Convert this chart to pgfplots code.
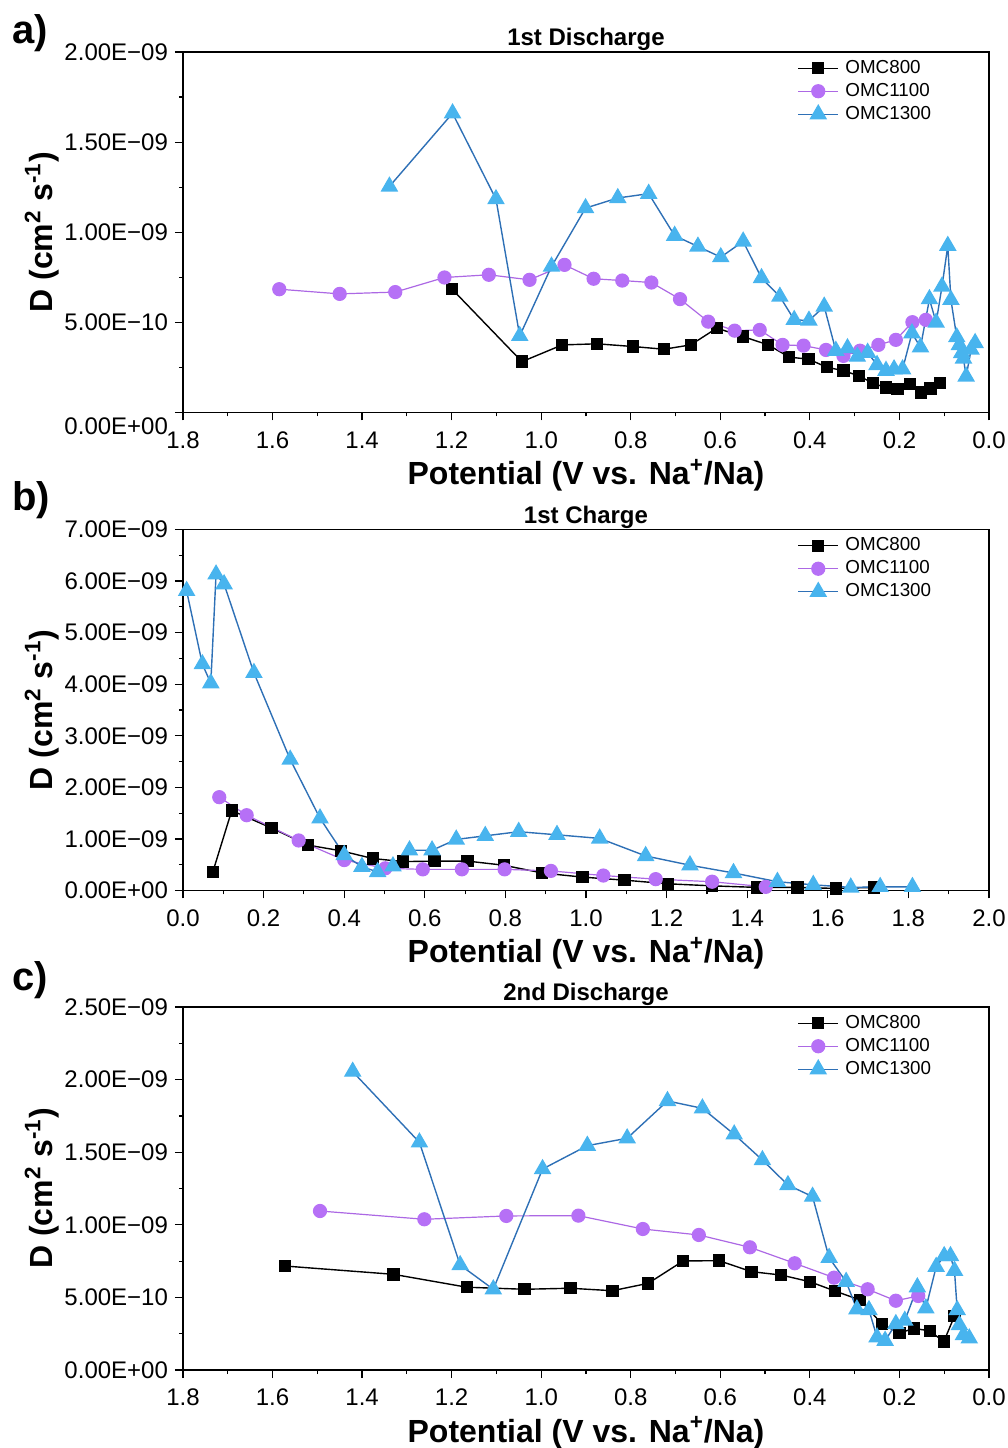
\documentclass[border=0pt]{standalone}
\usepackage{fontspec}
\setmainfont{Liberation Sans}
\usepackage{pgfplots}
\pgfplotsset{compat=1.18}
\definecolor{cA}{RGB}{0,0,0}
\definecolor{cB}{RGB}{182,112,246}
\definecolor{cBline}{RGB}{172,104,228}
\definecolor{cC}{RGB}{72,180,238}
\definecolor{cCline}{RGB}{46,112,182}

\pgfplotsset{
 panel/.style={
  scale only axis, width=403pt,
  anchor=south west, clip=false,
  axis line style={line width=0.7pt},
  tick align=outside, tick pos=left,
  major tick length=4pt, minor tick length=2pt,
  every tick/.style={black, line width=0.6pt},
  minor x tick num=1, minor y tick num=1,
  ticklabel style={font=\fontsize{12}{14}\selectfont},
  /pgf/number format/assume math mode=true,
  xticklabel style={yshift=-2pt, /pgf/number format/.cd, fixed, fixed zerofill, precision=1},
  xlabel={Potential (V vs. Na\textsuperscript{+}/Na)},
  ylabel={D (cm\textsuperscript{2} s\textsuperscript{-1})},
  label style={font=\fontsize{16}{19}\selectfont\bfseries},
  xlabel style={at={(axis description cs:0.5,0)}, anchor=base, yshift=-36.25pt},
  ylabel style={at={(axis description cs:-0.1613,0.5)}, anchor=base},
  title style={font=\fontsize{12}{14}\selectfont\bfseries, at={(axis description cs:0.5,1)}, anchor=base, yshift=-3pt},
  legend style={at={(axis description cs:0.762,0.988)}, anchor=north west, draw=none, fill=none, inner sep=0pt,
    font=\fontsize{9.4}{11}\selectfont, nodes={inner sep=1.25pt, text height=7pt, text depth=2pt}, row sep=0pt,
    /tikz/every odd column/.append style={column sep=2pt}},
  legend cell align=left,
  legend image code/.code={\draw[mark repeat=2,mark phase=2,##1] plot coordinates {(0pt,0pt) (10pt,0pt) (20pt,0pt)};},
 },
 s800/.style={black, line width=0.7pt, mark=square*, mark size=2.75pt, mark options={solid, fill=black, draw=black}},
 s1100/.style={cBline, line width=0.6pt, mark=*, mark size=3.25pt, mark options={solid, fill=cB, draw=cB}},
 s1300/.style={cCline, line width=0.7pt, mark=triangle*, mark size=4.4pt, mark options={solid, fill=cC, draw=cC}},
}

\begin{document}
\begin{tikzpicture}
\useasboundingbox (0,0) rectangle (504pt,724pt);

% ---------------- a) 1st Discharge
\begin{axis}[panel, at={(91.5pt,517.75pt)}, height=180.25pt,
  x dir=reverse, xmin=0, xmax=1.8, ymin=0, ymax=2,
  xtick={0,0.2,...,1.8},
  ytick={0,0.5,1,1.5,2},
  yticklabels={\smash{\raisebox{-11pt}{0.00E+00}},5.00E−10,1.00E−09,1.50E−09,2.00E−09},
  title={1st Discharge}]
\addplot[s800] coordinates {
(1.199,0.684)(1.043,0.282)(0.953,0.375)(0.875,0.381)(0.795,0.366)(0.726,0.351)(0.666,0.375)
(0.608,0.468)(0.549,0.421)(0.493,0.375)(0.446,0.307)(0.403,0.296)(0.362,0.251)(0.325,0.232)
(0.290,0.203)(0.259,0.162)(0.230,0.138)(0.204,0.131)(0.177,0.158)(0.152,0.110)(0.131,0.134)(0.109,0.162)};
\addlegendentry{OMC800}
\addplot[s1100] coordinates {
(1.585,0.684)(1.450,0.658)(1.326,0.668)(1.216,0.749)(1.117,0.764)(1.026,0.736)(0.948,0.819)
(0.883,0.742)(0.819,0.732)(0.754,0.721)(0.690,0.629)(0.627,0.504)(0.568,0.454)(0.512,0.458)
(0.461,0.375)(0.414,0.371)(0.364,0.347)(0.325,0.314)(0.288,0.343)(0.247,0.375)(0.208,0.403)
(0.171,0.501)(0.141,0.514)};
\addlegendentry{OMC1100}
\addplot[s1300] coordinates {
(1.339,1.254)(1.198,1.660)(1.101,1.184)(1.048,0.425)(0.977,0.810)(0.901,1.134)(0.829,1.190)
(0.760,1.214)(0.702,0.981)(0.650,0.921)(0.599,0.862)(0.549,0.949)(0.508,0.746)(0.467,0.643)
(0.435,0.514)(0.402,0.510)(0.368,0.588)(0.342,0.343)(0.316,0.357)(0.294,0.310)(0.271,0.332)
(0.250,0.264)(0.230,0.232)(0.212,0.240)(0.193,0.240)(0.172,0.440)(0.153,0.362)(0.133,0.629)
(0.118,0.499)(0.105,0.699)(0.092,0.925)(0.085,0.625)(0.072,0.418)(0.066,0.375)(0.061,0.330)
(0.057,0.300)(0.051,0.200)(0.040,0.349)(0.031,0.386)};
\addlegendentry{OMC1300}
\end{axis}

% ---------------- b) 1st Charge
\begin{axis}[panel, at={(91.5pt,278.75pt)}, height=180.5pt,
  xmin=0, xmax=2, ymin=0, ymax=7,
  xtick={0,0.2,...,2.0},
  ytick={0,1,...,7},
  yticklabels={0.00E+00,1.00E−09,2.00E−09,3.00E−09,4.00E−09,5.00E−09,6.00E−09,7.00E−09},
  title={1st Charge}]
\addplot[s800] coordinates {
(0.074,0.36)(0.121,1.55)(0.220,1.21)(0.310,0.88)(0.392,0.77)(0.471,0.62)(0.546,0.56)(0.624,0.57)
(0.706,0.57)(0.796,0.49)(0.891,0.34)(0.991,0.26)(1.096,0.20)(1.203,0.13)(1.313,0.09)(1.424,0.06)
(1.525,0.06)(1.620,0.04)(1.714,0.06)};
\addlegendentry{OMC800}
\addplot[s1100] coordinates {
(0.090,1.81)(0.158,1.46)(0.287,0.97)(0.400,0.59)(0.502,0.43)(0.595,0.41)(0.692,0.41)(0.798,0.41)
(0.913,0.38)(1.043,0.29)(1.173,0.22)(1.313,0.17)(1.446,0.07)};
\addlegendentry{OMC1100}
\addplot[s1300] coordinates {
(0.009,5.81)(0.048,4.39)(0.069,4.02)(0.082,6.13)(0.102,5.94)(0.176,4.22)(0.266,2.54)(0.340,1.40)
(0.400,0.69)(0.444,0.46)(0.483,0.36)(0.521,0.47)(0.562,0.78)(0.618,0.78)(0.678,0.99)(0.750,1.06)
(0.833,1.14)(0.928,1.08)(1.034,1.01)(1.148,0.67)(1.258,0.49)(1.366,0.34)(1.475,0.17)(1.564,0.11)
(1.657,0.06)(1.730,0.07)(1.810,0.07)};
\addlegendentry{OMC1300}
\end{axis}

% ---------------- c) 2nd Discharge
\begin{axis}[panel, at={(91.5pt,39pt)}, height=181.5pt,
  x dir=reverse, xmin=0, xmax=1.8, ymin=0, ymax=2.5,
  xtick={0,0.2,...,1.8},
  ytick={0,0.5,1,1.5,2,2.5},
  yticklabels={0.00E+00,5.00E−10,1.00E−09,1.50E−09,2.00E−09,2.50E−09},
  title={2nd Discharge}]
\addplot[s800] coordinates {
(1.572,0.716)(1.330,0.659)(1.166,0.570)(1.037,0.556)(0.935,0.563)(0.841,0.546)(0.761,0.597)
(0.683,0.751)(0.603,0.753)(0.530,0.677)(0.464,0.654)(0.400,0.608)(0.344,0.544)(0.288,0.482)
(0.239,0.317)(0.200,0.253)(0.168,0.287)(0.132,0.269)(0.101,0.195)(0.077,0.372)};
\addlegendentry{OMC800}
\addplot[s1100] coordinates {
(1.494,1.095)(1.261,1.038)(1.078,1.061)(0.917,1.063)(0.773,0.971)(0.648,0.930)(0.534,0.845)
(0.434,0.735)(0.346,0.636)(0.271,0.556)(0.208,0.477)(0.158,0.510)};
\addlegendentry{OMC1100}
\addplot[s1300] coordinates {
(1.421,2.055)(1.272,1.568)(1.181,0.723)(1.107,0.556)(0.997,1.384)(0.897,1.545)(0.808,1.596)
(0.718,1.853)(0.640,1.802)(0.569,1.623)(0.506,1.446)(0.449,1.274)(0.394,1.194)(0.357,0.773)
(0.319,0.608)(0.295,0.418)(0.268,0.413)(0.250,0.225)(0.232,0.202)(0.208,0.317)(0.188,0.340)
(0.160,0.570)(0.141,0.425)(0.118,0.711)(0.100,0.785)(0.086,0.785)(0.077,0.684)(0.071,0.413)
(0.066,0.310)(0.057,0.241)(0.044,0.218)};
\addlegendentry{OMC1300}
\end{axis}

\node[anchor=west, font=\fontsize{20}{24}\selectfont\bfseries, inner sep=0pt] at (6pt,707.5pt) {a)};
\node[anchor=west, font=\fontsize{20}{24}\selectfont\bfseries, inner sep=0pt] at (6pt,474pt) {b)};
\node[anchor=west, font=\fontsize{20}{24}\selectfont\bfseries, inner sep=0pt] at (6pt,234pt) {c)};
\end{tikzpicture}
\end{document}
